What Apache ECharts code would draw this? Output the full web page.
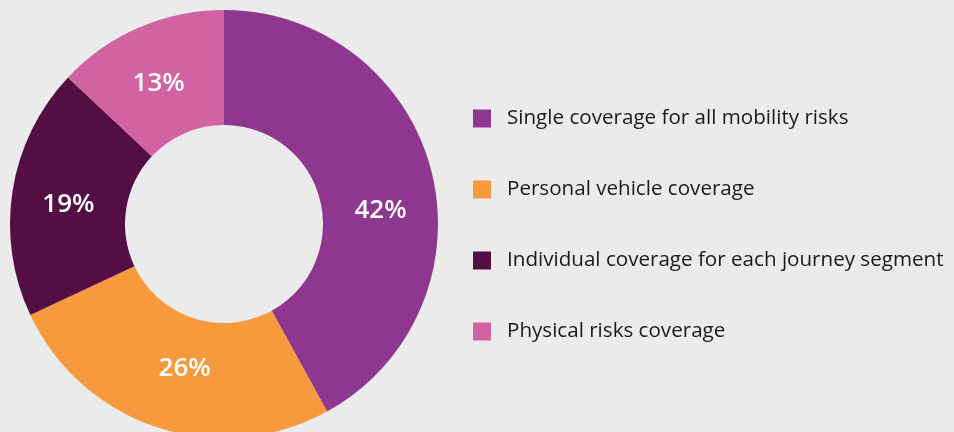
<!DOCTYPE html>
<html>
<head>
<meta charset="utf-8">
<script src="https://cdn.jsdelivr.net/npm/echarts@6/dist/echarts.min.js"></script>
<style>
html,body{margin:0;padding:0;background:#ebebeb;}
#c{width:954px;height:432px;}
</style>
</head>
<body>
<div id="c"></div>
<script>
const categories = [
  'Single coverage for all mobility risks',
  'Personal vehicle coverage',
  'Individual coverage for each journey segment',
  'Physical risks coverage'
];
const values = [42, 26, 19, 13];
const colors = ['#8e378e', '#f79a3e', '#530f43', '#d263a3'];

// small nudges so the percentage labels sit where the original placed them
const labelNudges = [[2, 26], [10, -7], [2, 6], [-2, 6]];

const chart = echarts.init(document.getElementById('c'));
const data = categories.map((name, i) => ({
  name: name,
  value: values[i],
  itemStyle: { color: colors[i] },
  label: { offset: labelNudges[i] }
}));
chart.setOption({
  backgroundColor: '#ebebeb',
  animation: false,
  legend: {
    orient: 'vertical',
    left: 473,
    top: 108,
    padding: 0,
    itemWidth: 18,
    itemHeight: 18,
    itemGap: 50,
    icon: 'rect',
    data: categories,
    textStyle: {
      fontFamily: 'Open Sans',
      fontSize: 20.6,
      color: '#1a1a1a',
      padding: [0, 0, 0, 11],
      lineHeight: 18
    }
  },
  series: [{
    type: 'pie',
    center: [224, 224],
    radius: [99, 214],
    startAngle: 90,
    clockwise: true,
    data: data,
    label: {
      show: true,
      position: 'inside',
      formatter: '{c}%',
      color: '#ffffff',
      fontFamily: 'Open Sans',
      fontSize: 26,
      fontWeight: 600
    },
    labelLine: { show: false },
    itemStyle: { borderWidth: 0 },
    emphasis: { disabled: true }
  }]
});
</script>
</body>
</html>
